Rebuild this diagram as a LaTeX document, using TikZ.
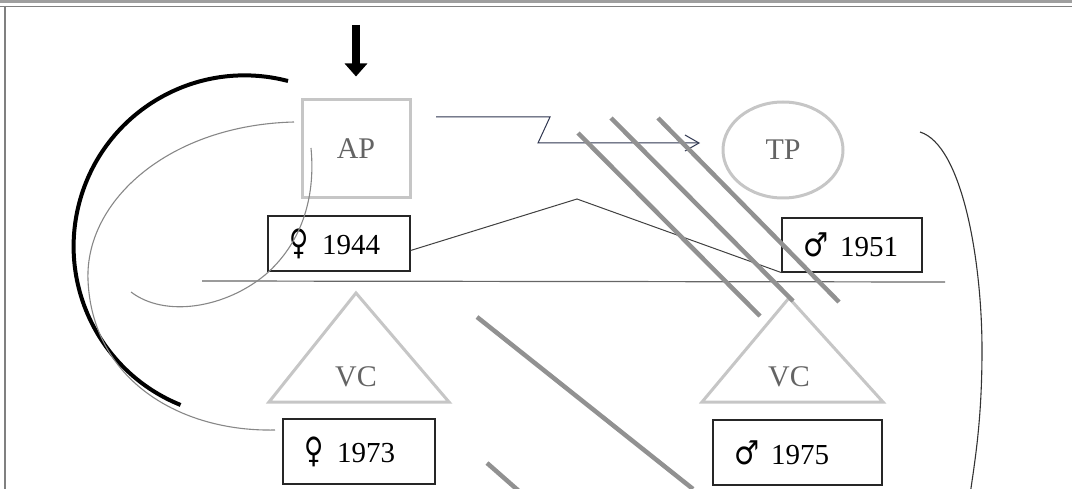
\documentclass[tikz,border=0pt]{standalone}
\usepackage{fontspec}
\setmainfont{Liberation Serif}
\newfontfamily\symfont{DejaVu Sans}
\usepackage{xcolor}
\usepackage{tikz}
\usetikzlibrary{arrows.meta,shapes.geometric}
\definecolor{pale}{RGB}{198,198,198}
\definecolor{labgray}{RGB}{100,100,100}
\definecolor{bargray}{RGB}{145,145,145}
\definecolor{linkblue}{RGB}{45,52,78}
\definecolor{arcgray}{RGB}{135,135,135}
\newcommand{\fem}{\scalebox{0.75}[1]{\symfont\fontsize{35}{36}\selectfont ♀}\hspace{14pt}}
\newcommand{\mal}{\scalebox{0.85}[1]{\symfont\fontsize{33}{36}\selectfont ♂}\hspace{12pt}}
\newcommand{\yrbox}[6]{%
  \node[yr,text width={#4-#2-42},minimum height={#5-#3}] (#1)
    at ({(#2+#4)/2},{(#3+#5)/2}) {#6};}
\newcommand{\vctri}[6]{%
  \draw[pale,line width=3pt,line join=miter] (#2,#3) -- (#5,#6) -- (#4,#6) -- cycle;
  \node[lab] (#1) at (#2,377) {VC};}
\newcommand{\strikebar}[4]{\draw[barline] (#1,#2) -- (#3,#4);}

\begin{document}
\begin{tikzpicture}[x=1pt,y=-1pt,
    lab/.style={text=labgray,font=\fontsize{30}{32}\selectfont,inner sep=0pt},
    yr/.style={draw=black!85,line width=1.2pt,align=left,inner xsep=21pt,inner ysep=0pt,
      font=\fontsize{29}{32}\selectfont},
    barline/.style={bargray,line width=4.5pt},
    thinarc/.style={arcgray,line width=1.1pt}]
  \useasboundingbox (0,0) rectangle (1072,489);
  \clip (0,0) rectangle (1072,489);
  % frame
  \draw[gray!75,line width=3pt] (0,1.5) -- (1072,1.5);
  \draw[gray,line width=1pt] (0,6.5) -- (1072,6.5);
  \draw[gray,line width=1.5pt] (5,6.5) -- (5,489);

  \node[draw=pale,line width=3pt,minimum width=108pt,minimum height=98pt,lab] (ap) at (356,149) {AP};
  \node[draw=pale,line width=3pt,ellipse,minimum width=120pt,minimum height=96pt,lab] (tp) at (783,150) {TP};
  \vctri{vcl}{356}{293}{269}{449}{402}
  \vctri{vcr}{789}{298}{702}{883}{402}

  \yrbox{f44}{268}{216}{410}{271}{\fem 1944}
  \yrbox{m51}{782}{218}{922}{272}{\mal 1951}
  \yrbox{f73}{283}{419}{435}{484}{\fem 1973}
  \yrbox{m75}{713}{420}{882}{485}{\mal 1975}

  \coordinate (in) at (356,25);
  \draw[line width=8pt,-{Triangle[length=13pt,width=22pt]}] (in) -- ([yshift=22pt]ap.north);

  \coordinate (zs) at (436,117);
  \coordinate (zt) at (700,143);
  \draw[linkblue,line width=1pt,-{Straight Barb[length=14pt,width=16pt]}]
    (zs) -- (550,117) -- (538,143) -- (zt);

  \coordinate (peak) at (577,199);
  \draw[black!75,line width=1pt] ([yshift=-7pt]f44.east) -- (peak) -- (m51.south west);
  \draw[black!60,line width=1.2pt] (202,281) -- (945,282);

  \draw[line width=4pt] (288,81) arc[start angle=-75.3,end angle=-248,radius=171];
  \draw[thinarc] (294,122) .. controls (170,125) and (85,200) .. (88,280)
    .. controls (92,380) and (180,432) .. (275,430);
  \draw[thinarc] (311,148) .. controls (316,200) and (300,245) .. (265,275)
    .. controls (225,308) and (165,318) .. (131,292);
  \draw[black!80,line width=1.1pt] (920,132) .. controls (962,145) and (982,260) .. (982,350)
    .. controls (982,420) and (975,460) .. (970,495);

  \strikebar{578}{133}{760}{316}
  \strikebar{611}{118}{793}{301}
  \strikebar{658}{118}{839}{302}
  \strikebar{477}{317}{693}{489}
  \strikebar{487}{463}{520}{492}
\end{tikzpicture}
\end{document}
